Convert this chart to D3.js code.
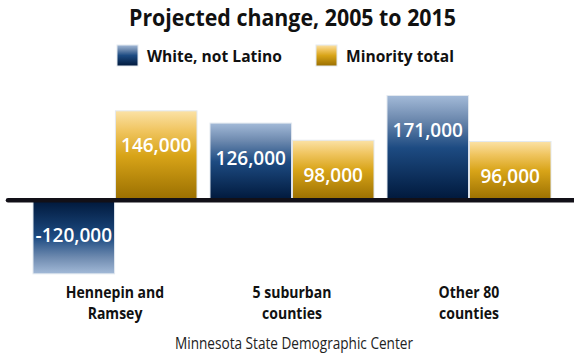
<!DOCTYPE html>
<html>
<head>
<meta charset="utf-8">
<script src="https://cdn.jsdelivr.net/npm/d3@7"></script>
<style>
  html, body { margin: 0; padding: 0; background: #fff; }
  svg { display: block; }
</style>
</head>
<body>
<svg id="chart" width="574" height="362"></svg>
<script>
// Projected population change by region, 2005 to 2015
const groups = ["Hennepin and Ramsey", "5 suburban counties", "Other 80 counties"];
const groupLines = [["Hennepin and", "Ramsey"], ["5 suburban", "counties"], ["Other 80", "counties"]];
const seriesNames = ["White, not Latino", "Minority total"];
const whiteValues = [-120000, 126000, 171000];
const minorityValues = [146000, 98000, 96000];

const svg = d3.select("#chart");
const font = "'Open Sans', 'Noto Sans', sans-serif";

// Squeeze a text element horizontally to a share of its natural width
function condense(sel, factor) {
  sel.each(function() {
    const w = this.getComputedTextLength();
    d3.select(this).attr("textLength", w * factor).attr("lengthAdjust", "spacingAndGlyphs");
  });
}

// Gradients: dark at the baseline, light toward the bar's far end
const defs = svg.append("defs");
function grad(id, stops, reverse) {
  const g = defs.append("linearGradient").attr("id", id)
    .attr("x1", 0).attr("y1", reverse ? 1 : 0).attr("x2", 0).attr("y2", reverse ? 0 : 1);
  stops.forEach(s => g.append("stop").attr("offset", s[0]).attr("stop-color", s[1]));
}
const blueStops = [[0, "#a3bad8"], [0.22, "#6f8bb0"], [0.5, "#1d4b82"], [1, "#00183b"]];
const goldStops = [[0, "#fbe2a6"], [0.22, "#f0c560"], [0.5, "#d8a418"], [1, "#996e00"]];
grad("blueUp", blueStops, false);
grad("blueDown", blueStops, true);
grad("goldUp", goldStops, false);
grad("goldDown", goldStops, true);

// Scales
const x0 = d3.scaleBand().domain(groups).range([33, 551]).paddingInner(0.0734);
const x1 = d3.scaleBand().domain(seriesNames).range([0, x0.bandwidth()]).paddingInner(0.01);
const y = d3.scaleLinear().domain([0, 171000]).range([200.3, 95.5]);

const rows = [];
groups.forEach((g, i) => {
  rows.push({ group: g, series: seriesNames[0], value: whiteValues[i], kind: "blue" });
  rows.push({ group: g, series: seriesNames[1], value: minorityValues[i], kind: "gold" });
});

// Bars
svg.append("g").selectAll("rect").data(rows).join("rect")
  .attr("x", d => x0(d.group) + x1(d.series))
  .attr("width", x1.bandwidth())
  .attr("y", d => d.value >= 0 ? y(d.value) : y(0))
  .attr("height", d => Math.abs(y(d.value) - y(0)))
  .attr("fill", d => `url(#${d.kind}${d.value >= 0 ? "Up" : "Down"})`)
  .attr("stroke", "#e3e9f0")
  .attr("stroke-width", 1);

// Value labels inside bars (plain hyphen for negatives)
const fmt = v => d3.format(",")(v).replace("\u2212", "-");
svg.append("g").selectAll("text").data(rows).join("text")
  .attr("x", d => x0(d.group) + x1(d.series) + x1.bandwidth() / 2)
  .attr("y", d => (d.value >= 0 ? y(d.value) : y(0)) + 35)
  .attr("dy", "0.35em")
  .attr("text-anchor", "middle")
  .attr("font-family", font)
  .attr("font-weight", 600)
  .attr("font-size", 19)
  .attr("fill", "#fff")
  .text(d => fmt(d.value));

// Zero baseline
svg.append("line")
  .attr("x1", 8).attr("x2", 580)
  .attr("y1", y(0)).attr("y2", y(0))
  .attr("stroke", "#121018").attr("stroke-width", 4.5).attr("stroke-linecap", "round");

// Title
svg.append("text")
  .attr("x", 292.5).attr("y", 26)
  .attr("text-anchor", "middle")
  .attr("font-family", font).attr("font-weight", 700).attr("font-size", 24)
  .attr("textLength", 327).attr("lengthAdjust", "spacingAndGlyphs")
  .attr("fill", "#111")
  .text("Projected change, 2005 to 2015");

// Legend
const legendItems = [
  { name: seriesNames[0], fill: "url(#blueUp)", x: 117, w: 135 },
  { name: seriesNames[1], fill: "url(#goldUp)", x: 316, w: 108 }
];
const lg = svg.append("g").selectAll("g").data(legendItems).join("g")
  .attr("transform", d => `translate(${d.x},45)`);
lg.append("rect").attr("width", 21).attr("height", 21).attr("fill", d => d.fill)
  .attr("stroke", "#e3e9f0").attr("stroke-width", 1);
lg.append("text")
  .attr("x", 30).attr("y", 16.8)
  .attr("font-family", font).attr("font-weight", 700).attr("font-size", 16.5)
  .attr("textLength", d => d.w).attr("lengthAdjust", "spacingAndGlyphs")
  .attr("fill", "#111")
  .text(d => d.name);

// Category labels, centred under each bar pair
const cx = g => x0(g) + x0.bandwidth() / 2;
const cat = svg.append("g").selectAll("text").data(groups).join("text")
  .attr("y", 297.5)
  .attr("text-anchor", "middle")
  .attr("font-family", font).attr("font-weight", 700).attr("font-size", 16.5)
  .attr("fill", "#111");
cat.each(function(d, i) {
  const t = d3.select(this);
  groupLines[i].forEach((line, j) => {
    t.append("tspan").attr("x", cx(d)).attr("y", 297.5 + j * 21).text(line);
  });
});
condense(cat.selectAll("tspan"), 0.85);

// Source
svg.append("text")
  .attr("x", 294).attr("y", 349)
  .attr("text-anchor", "middle")
  .attr("font-family", font).attr("font-size", 15.5)
  .attr("textLength", 238).attr("lengthAdjust", "spacingAndGlyphs")
  .attr("fill", "#222")
  .text("Minnesota State Demographic Center");
</script>
</body>
</html>
